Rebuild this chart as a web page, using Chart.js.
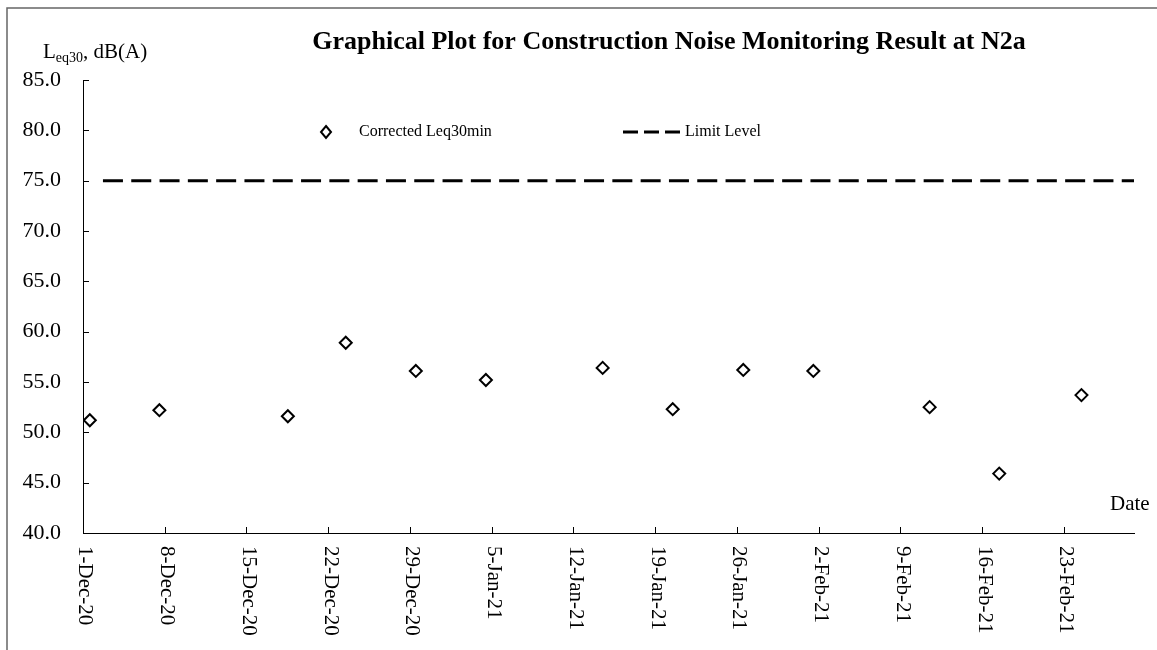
<!DOCTYPE html>
<html>
<head>
<meta charset="utf-8">
<script src="https://cdn.jsdelivr.net/npm/chart.js@4.4.1/dist/chart.umd.min.js"></script>
<style>
  body { margin: 0; background: #fff; }
  #wrap { width: 1157px; height: 650px; }
</style>
</head>
<body>
<div id="wrap"><canvas id="noiseChart" width="1157" height="650"></canvas></div>
<script>
// measurement times and corrected Leq30min values at N2a
const measureTimes = [
  "2020-12-01T14:00", "2020-12-07T13:00", "2020-12-18T13:00", "2020-12-23T12:00",
  "2020-12-29T12:00", "2021-01-04T12:00", "2021-01-14T12:00", "2021-01-20T12:00",
  "2021-01-26T13:00", "2021-02-01T13:00", "2021-02-11T12:00", "2021-02-17T11:00",
  "2021-02-24T12:00"
];
const leqValues = [51.2, 52.2, 51.6, 58.9, 56.1, 55.2, 56.4, 52.3, 56.2, 56.1, 52.5, 45.9, 53.7];

// limit level line
const limitTimes = ["2020-12-02T17:00", "2021-03-01T00:00"];
const limitValues = [75, 75];

const startDate = "2020-12-01T00:00";
const endDate = "2021-03-01T00:00";
const yTicks = [40, 45, 50, 55, 60, 65, 70, 75, 80, 85];
const months = ["Jan","Feb","Mar","Apr","May","Jun","Jul","Aug","Sep","Oct","Nov","Dec"];

const DAY = 86400000;
const t0 = Date.parse(startDate + "Z");
function toDay(s) { return (Date.parse(s + "Z") - t0) / DAY; }
function dayLabel(d) {
  const dt = new Date(t0 + d * DAY);
  return dt.getUTCDate() + "-" + months[dt.getUTCMonth()] + "-" + String(dt.getUTCFullYear()).slice(2);
}

const FONT = "'Liberation Serif', 'Times New Roman', serif";

const overlay = {
  id: "overlay",
  afterDraw(chart) {
    const ctx = chart.ctx;
    const xs = chart.scales.x, ys = chart.scales.y;
    const area = chart.chartArea;
    const xTicks = xs.ticks.filter(t => t.value < xs.max);
    ctx.save();

    // outer frame (left + top)
    ctx.strokeStyle = "#666";
    ctx.lineWidth = 1.5;
    ctx.beginPath();
    ctx.moveTo(7, 650); ctx.lineTo(7, 8); ctx.lineTo(1157, 8);
    ctx.stroke();

    // inner tick marks
    ctx.strokeStyle = "#000";
    ctx.lineWidth = 1;
    ctx.beginPath();
    xTicks.forEach(t => {
      const px = Math.round(xs.getPixelForValue(t.value)) + 0.5;
      ctx.moveTo(px, area.bottom); ctx.lineTo(px, area.bottom - 6);
    });
    ys.ticks.forEach(t => {
      const py = Math.round(ys.getPixelForValue(t.value)) + 0.5;
      ctx.moveTo(area.left, py); ctx.lineTo(area.left + 6, py);
    });
    ctx.stroke();

    // x tick labels, rotated to read downward
    ctx.fillStyle = "#000";
    ctx.font = "21px " + FONT;
    ctx.textAlign = "left";
    ctx.textBaseline = "middle";
    xTicks.forEach(t => {
      const px = xs.getPixelForValue(t.value);
      ctx.save();
      ctx.translate(px + 2, area.bottom + 13);
      ctx.rotate(Math.PI / 2);
      ctx.fillText(dayLabel(t.value), 0, 0);
      ctx.restore();
    });

    // title
    ctx.font = "bold 26px " + FONT;
    ctx.textAlign = "center";
    ctx.fillText("Graphical Plot for Construction Noise Monitoring Result at N2a", 669, 42);

    // y axis title with subscript
    ctx.textAlign = "left";
    ctx.font = "21px " + FONT;
    ctx.fillText("L", 43, 52);
    let x = 43 + ctx.measureText("L").width;
    ctx.font = "14px " + FONT;
    ctx.fillText("eq30", x, 58);
    x += ctx.measureText("eq30").width;
    ctx.font = "21px " + FONT;
    ctx.fillText(", dB(A)", x, 52);

    // x axis title
    ctx.fillText("Date", 1110, 504);

    // legend
    ctx.font = "16px " + FONT;
    ctx.fillText("Corrected Leq30min", 359, 132);
    ctx.fillText("Limit Level", 685, 132);
    ctx.strokeStyle = "#000";
    ctx.lineWidth = 2;
    ctx.beginPath();
    ctx.moveTo(326, 126); ctx.lineTo(331, 132); ctx.lineTo(326, 138); ctx.lineTo(321, 132);
    ctx.closePath();
    ctx.stroke();
    ctx.lineWidth = 3;
    ctx.setLineDash([15, 6]);
    ctx.beginPath();
    ctx.moveTo(623, 132); ctx.lineTo(680, 132);
    ctx.stroke();

    ctx.restore();
  }
};

new Chart(document.getElementById("noiseChart"), {
  type: "scatter",
  data: {
    datasets: [
      {
        label: "Corrected Leq30min",
        data: measureTimes.map((s, i) => ({ x: toDay(s), y: leqValues[i] })),
        pointStyle: "rectRot",
        pointRadius: 6,
        pointHoverRadius: 6,
        borderWidth: 2,
        borderColor: "#000",
        backgroundColor: "#fff"
      },
      {
        label: "Limit Level",
        type: "line",
        data: limitTimes.map((s, i) => ({ x: toDay(s), y: limitValues[i] })),
        borderColor: "#000",
        borderWidth: 3,
        borderDash: [20, 8.3],
        pointRadius: 0,
        fill: false,
        clip: false
      }
    ]
  },
  options: {
    responsive: false,
    animation: false,
    layout: { padding: { top: 80, bottom: 117, right: 23, left: 0 } },
    plugins: {
      legend: { display: false },
      title: { display: false },
      tooltip: { enabled: false }
    },
    scales: {
      x: {
        type: "linear",
        min: 0,
        max: toDay(endDate),
        ticks: { display: false, stepSize: 7 },
        grid: { display: false, drawTicks: false },
        border: { display: true, color: "#000", width: 1 }
      },
      y: {
        min: yTicks[0],
        max: yTicks[yTicks.length - 1],
        afterBuildTicks: (scale) => { scale.ticks = yTicks.map(v => ({ value: v })); },
        afterFit: (scale) => { scale.width = 83; },
        ticks: {
          padding: 22,
          color: "#000",
          font: { family: FONT, size: 22 },
          callback: (v) => Number(v).toFixed(1)
        },
        grid: { display: false, drawTicks: false },
        border: { display: true, color: "#000", width: 1 }
      }
    }
  },
  plugins: [overlay]
});
</script>
</body>
</html>
